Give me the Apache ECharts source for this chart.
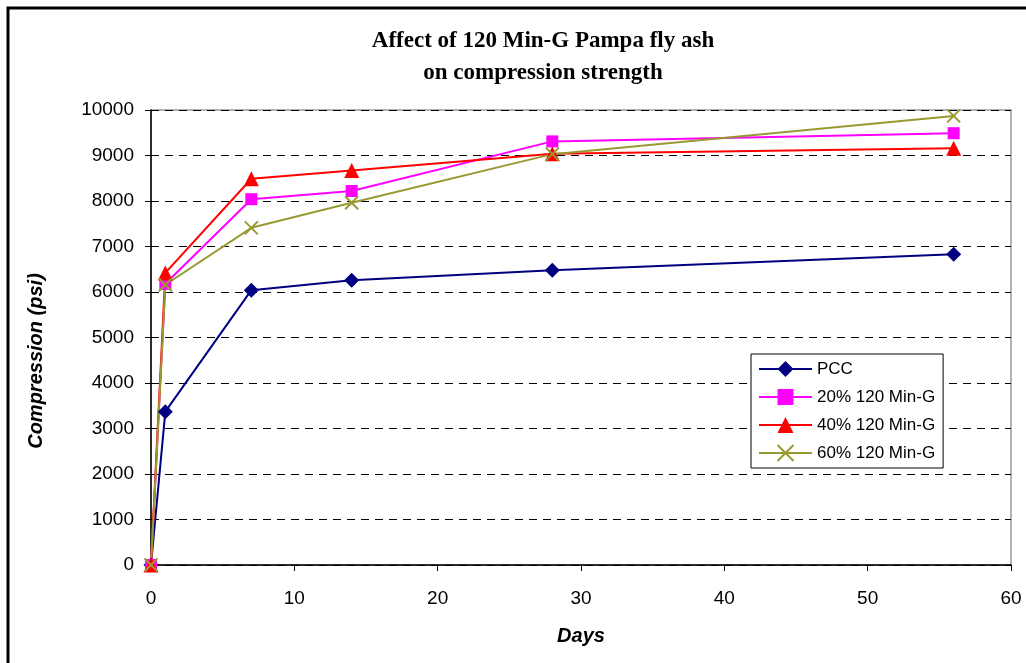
<!DOCTYPE html>
<html>
<head>
<meta charset="utf-8">
<script src="https://cdn.jsdelivr.net/npm/echarts@6/dist/echarts.min.js"></script>
<style>
html,body{margin:0;padding:0;background:#fff;}
#c{width:1026px;height:663px;}
</style>
</head>
<body>
<div id="c"></div>
<script>
var days = [0, 1, 7, 14, 28, 56];
var pcc = [0, 3370, 6040, 6260, 6480, 6830];
var g20 = [0, 6180, 8040, 8220, 9310, 9490];
var g40 = [0, 6420, 8490, 8670, 9040, 9160];
var g60 = [0, 6160, 7410, 7960, 9030, 9870];
var seriesNames = ['PCC', '20% 120 Min-G', '40% 120 Min-G', '60% 120 Min-G'];
var xTicks = [0, 10, 20, 30, 40, 50, 60];

function pairs(vals){ return days.map(function(d,i){ return [d, vals[i]]; }); }

var chart = echarts.init(document.getElementById('c'));
var lbl = {fontFamily:'Liberation Sans, Arial, sans-serif', fontSize:19, color:'#000'};
chart.setOption({
  animation:false,
  backgroundColor:'#fff',
  title:{
    text:'Affect of 120 Min-G Pampa fly ash\non compression strength',
    left:538, top:20, textAlign:'center',
    textStyle:{fontFamily:'Liberation Serif, Times New Roman, serif', fontWeight:'bold', fontSize:23, lineHeight:32, color:'#000'}
  },
  graphic:[
    {type:'rect', shape:{x:8, y:8, width:1200, height:1000}, style:{fill:'none', stroke:'#000', lineWidth:3}, z:-1},
    {type:'text', x:36, y:361, rotation:Math.PI/2,
     style:{text:'Compression (psi)', fontFamily:'Liberation Sans, Arial, sans-serif', fontSize:20, fontWeight:'bold', fontStyle:'italic', fill:'#000', textAlign:'center', textVerticalAlign:'middle'}}
  ],
  grid:{left:151, right:15, top:110, bottom:98, show:true, borderColor:'#999', borderWidth:1.5, backgroundColor:'#fff'},
  legend:{
    orient:'vertical', left:751, top:354,
    backgroundColor:'#fff', borderColor:'#000', borderWidth:1,
    padding:[6,8,6,7],
    itemWidth:53, itemHeight:20, itemGap:10,
    textStyle:{fontFamily:'Liberation Sans, Arial, sans-serif', fontSize:17, lineHeight:18, color:'#000'},
    data:seriesNames
  },
  xAxis:{
    type:'value', min:0, max:60, interval:10,
    name:'Days', nameLocation:'middle', nameGap:61,
    nameTextStyle:{fontFamily:'Liberation Sans, Arial, sans-serif', fontSize:20, fontWeight:'bold', fontStyle:'italic', color:'#000'},
    axisLine:{show:true, lineStyle:{color:'#000', width:1.5}},
    axisTick:{show:true, length:6, lineStyle:{color:'#000'}},
    axisLabel:Object.assign({margin:24, formatter:function(v){ return xTicks.indexOf(v)>=0 ? String(v) : ''; }}, lbl),
    splitLine:{show:false}
  },
  yAxis:{
    type:'value', min:0, max:10000, interval:1000,
    axisLine:{show:true, lineStyle:{color:'#000', width:1.5}},
    axisTick:{show:true, length:6, lineStyle:{color:'#000'}},
    axisLabel:Object.assign({margin:17, formatter:function(v){ return String(v); }}, lbl),
    splitLine:{show:true, lineStyle:{color:'#000', type:[8,6], width:1}}
  },
  series:[
    {name:seriesNames[0], type:'line', data:pairs(pcc), symbol:'diamond', symbolSize:15,
     itemStyle:{color:'#000080'}, lineStyle:{color:'#000080', width:2}},
    {name:seriesNames[1], type:'line', data:pairs(g20), symbol:'rect', symbolSize:12,
     itemStyle:{color:'#FF00FF'}, lineStyle:{color:'#FF00FF', width:2}},
    {name:seriesNames[2], type:'line', data:pairs(g40), symbol:'triangle', symbolSize:15,
     itemStyle:{color:'#FF0000'}, lineStyle:{color:'#FF0000', width:2}},
    {name:seriesNames[3], type:'line', data:pairs(g60), symbol:'path://M0,0L10,10M10,0L0,10', symbolSize:13,
     itemStyle:{color:'#999933', borderColor:'#999933', borderWidth:2}, lineStyle:{color:'#999933', width:2}}
  ]
});
</script>
</body>
</html>
